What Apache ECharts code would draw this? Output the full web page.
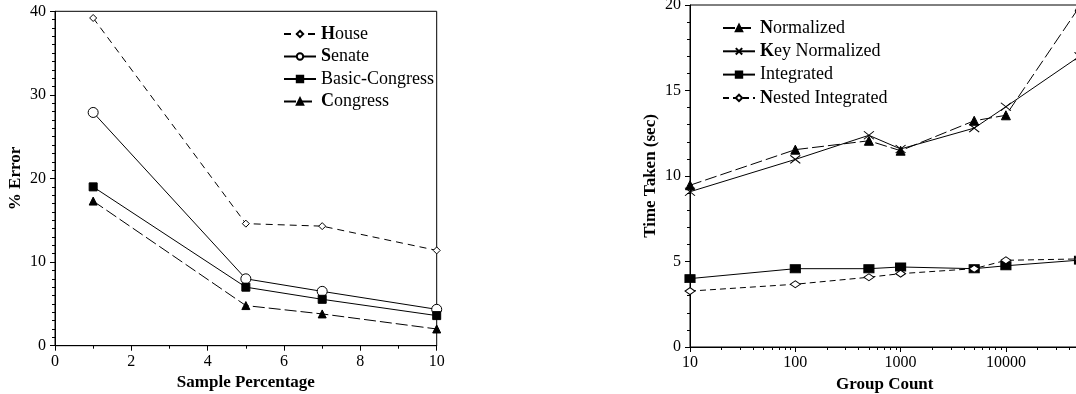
<!DOCTYPE html>
<html>
<head>
<meta charset="utf-8">
<script src="https://cdn.jsdelivr.net/npm/echarts@6/dist/echarts.min.js"></script>
<style>html,body{margin:0;padding:0;background:#fff}#c{width:1076px;height:394px}</style>
</head>
<body>
<div id="c"></div>
<script>
// ---- Left chart data ----
const samplePct = [1, 5, 7, 10];
const house = [39.2, 14.6, 14.3, 11.4];
const senate = [27.9, 8.0, 6.5, 4.35];
const basicCongress = [19.0, 7.0, 5.55, 3.6];
const congress = [17.3, 4.8, 3.8, 2.0];
const leftNames = ['House', 'Senate', 'Basic-Congress', 'Congress'];

// ---- Right chart data ----
const groupCounts = [10, 100, 500, 1000, 5000, 10000, 50000];
const normalized = [9.46, 11.54, 12.06, 11.48, 13.23, 13.55, 19.9];
const keyNormalized = [9.08, 10.97, 12.38, 11.58, 12.8, 14.05, 17.0];
const integrated = [4.0, 4.58, 4.58, 4.68, 4.58, 4.75, 5.08];
const nestedIntegrated = [3.27, 3.67, 4.08, 4.29, 4.58, 5.07, 5.15];
const rightNames = ['Normalized', 'Key Normalized', 'Integrated', 'Nested Integrated'];
const groupMajorTicks = [10, 100, 1000, 10000];
const groupMinorTicks = [20, 30, 40, 50, 60, 70, 80, 90, 200, 300, 400, 500, 600, 700, 800, 900,
  2000, 3000, 4000, 5000, 6000, 7000, 8000, 9000, 20000, 30000, 40000];
const boldFirst = ['House', 'Senate', 'Congress', 'Normalized', 'Key Normalized', 'Nested Integrated'];

const FONT = '"Liberation Serif", "DejaVu Serif", serif';
const BLACK = '#000';
const MINOR = 3;

function zip(xs, ys) { return xs.map((x, i) => [x, ys[i]]); }

const axisCommon = {
  axisLine: { show: true, lineStyle: { color: BLACK, width: 1 } },
  axisTick: { show: true, inside: false, length: 5, lineStyle: { color: BLACK, width: 1 } },
  splitLine: { show: false },
  axisLabel: { show: true, color: BLACK, fontFamily: FONT, fontSize: 16 },
  nameTextStyle: { color: BLACK, fontFamily: FONT, fontSize: 17, fontWeight: 'bold' },
  nameLocation: 'middle'
};

function legendFmt(name) {
  if (boldFirst.indexOf(name) >= 0) return '{b|' + name.charAt(0) + '}{n|' + name.slice(1) + '}';
  return '{n|' + name + '}';
}
const legendText = {
  color: BLACK, fontFamily: FONT, fontSize: 18,
  rich: {
    b: { fontFamily: FONT, fontSize: 18, fontWeight: 'bold', color: BLACK },
    n: { fontFamily: FONT, fontSize: 18, color: BLACK }
  }
};

function lineSeries(name, xi, yi, data, symbol, size, hollow, dash) {
  return {
    name, type: 'line', xAxisIndex: xi, yAxisIndex: yi, data,
    symbol, symbolSize: size, showSymbol: true, clip: true,
    lineStyle: { color: BLACK, width: 1, type: dash },
    itemStyle: { color: hollow ? '#fff' : BLACK, borderColor: BLACK, borderWidth: 1 },
    emphasis: { disabled: true },
    animation: false
  };
}

const option = {
  backgroundColor: '#fff',
  animation: false,
  grid: [
    { left: 55, top: 11.3, width: 381.7, height: 334.4, show: true, borderColor: BLACK, borderWidth: 1, backgroundColor: 'transparent', containLabel: false, outerBoundsMode: 'none' },
    { left: 690, top: 5, width: 389.5, height: 342, show: true, borderColor: BLACK, borderWidth: 1, backgroundColor: 'transparent', containLabel: false, outerBoundsMode: 'none' }
  ],
  xAxis: [
    Object.assign({}, axisCommon, {
      gridIndex: 0, type: 'value', min: 0, max: 10, interval: 2,
      name: 'Sample Percentage', nameGap: 25,
      axisLabel: Object.assign({}, axisCommon.axisLabel, { margin: 8 }),
      minorTick: { show: true, splitNumber: 2, length: MINOR, lineStyle: { color: BLACK, width: 1 } },
      minorSplitLine: { show: false }
    }),
    Object.assign({}, axisCommon, {
      gridIndex: 1, type: 'log', logBase: 10, min: 10, max: 50000, position: 'bottom',
      name: 'Group Count', nameGap: 27,
      axisTick: Object.assign({}, axisCommon.axisTick, { customValues: groupMajorTicks }),
      axisLabel: Object.assign({}, axisCommon.axisLabel, { margin: 8, customValues: groupMajorTicks, formatter: v => String(Math.round(v)) })
    }),
    {
      gridIndex: 1, type: 'log', logBase: 10, min: 10, max: 50000, position: 'bottom', offset: 0,
      axisLine: { show: false },
      axisTick: { show: true, length: MINOR, customValues: groupMinorTicks, lineStyle: { color: BLACK, width: 1 } },
      axisLabel: { show: false },
      splitLine: { show: false }
    }
  ],
  yAxis: [
    Object.assign({}, axisCommon, {
      gridIndex: 0, type: 'value', min: 0, max: 40, interval: 10,
      name: '% Error', nameGap: 31,
      axisLabel: Object.assign({}, axisCommon.axisLabel, { margin: 9 }),
      minorTick: { show: true, splitNumber: 10, length: MINOR, lineStyle: { color: BLACK, width: 1 } },
      minorSplitLine: { show: false }
    }),
    Object.assign({}, axisCommon, {
      gridIndex: 1, type: 'value', min: 0, max: 20, interval: 5,
      name: 'Time Taken (sec)', nameGap: 31,
      axisLabel: Object.assign({}, axisCommon.axisLabel, { margin: 9 }),
      minorTick: { show: true, splitNumber: 5, length: MINOR, lineStyle: { color: BLACK, width: 1 } },
      minorSplitLine: { show: false }
    })
  ],
  legend: [
    {
      data: leftNames, orient: 'vertical', left: 283, top: 25, itemWidth: 32, itemHeight: 8, itemGap: 4.5,
      formatter: legendFmt, textStyle: legendText, selectedMode: false, padding: 0
    },
    {
      data: rightNames, orient: 'vertical', left: 722, top: 19, itemWidth: 32, itemHeight: 8, itemGap: 5.3,
      formatter: legendFmt, textStyle: legendText, selectedMode: false, padding: 0
    }
  ],
  series: [
    lineSeries('House', 0, 0, zip(samplePct, house), 'diamond', 7, true, [7, 5]),
    lineSeries('Senate', 0, 0, zip(samplePct, senate), 'circle', 10, true, 'solid'),
    lineSeries('Basic-Congress', 0, 0, zip(samplePct, basicCongress), 'rect', 8, false, 'solid'),
    lineSeries('Congress', 0, 0, zip(samplePct, congress), 'triangle', 8, false, [12, 4]),
    lineSeries('Normalized', 1, 1, zip(groupCounts, normalized), 'triangle', 9, false, [12, 4]),
    lineSeries('Key Normalized', 1, 1, zip(groupCounts, keyNormalized), 'path://M0,0L10,8M0,8L10,0', [10, 8], false, 'solid'),
    lineSeries('Integrated', 1, 1, zip(groupCounts, integrated), 'rect', [10, 8], false, 'solid'),
    lineSeries('Nested Integrated', 1, 1, zip(groupCounts, nestedIntegrated), 'diamond', [10, 7], true, [6, 4])
  ]
};

const chart = echarts.init(document.getElementById('c'), null, { renderer: 'canvas' });
chart.setOption(option);
</script>
</body>
</html>
